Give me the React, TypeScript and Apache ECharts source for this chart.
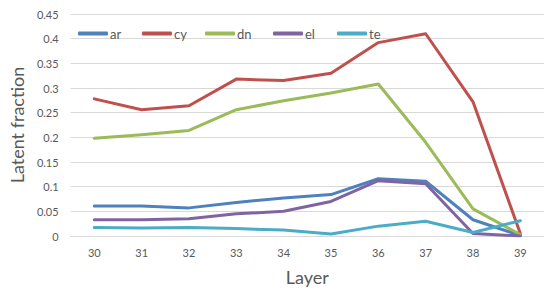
import React, { useEffect, useRef } from "react";
import * as echarts from "echarts";

const layers = ["30", "31", "32", "33", "34", "35", "36", "37", "38", "39"];
const ar = [0.061, 0.061, 0.057, 0.068, 0.077, 0.084, 0.116, 0.111, 0.033, 0.001];
const cy = [0.278, 0.256, 0.264, 0.318, 0.315, 0.33, 0.392, 0.41, 0.272, 0.005];
const dn = [0.198, 0.205, 0.214, 0.256, 0.274, 0.29, 0.308, 0.19, 0.055, 0.003];
const el = [0.033, 0.033, 0.035, 0.045, 0.05, 0.07, 0.112, 0.106, 0.005, 0.0];
const te = [0.017, 0.016, 0.017, 0.015, 0.012, 0.004, 0.02, 0.03, 0.007, 0.031];

const seriesNames = ["ar", "cy", "dn", "el", "te"];
const seriesData = [ar, cy, dn, el, te];
const colors = ["#4F81BD", "#C0504D", "#9BBB59", "#8064A2", "#4BACC6"];
const legendLeft = [78, 142, 205, 273, 337];

const FONT = "Lato, 'Open Sans', sans-serif";

export default function App() {
  const ref = useRef<HTMLDivElement>(null);
  useEffect(() => {
    if (!ref.current) return;
    const chart = echarts.init(ref.current, undefined, { renderer: "svg" });
    chart.setOption({
      animation: false,
      textStyle: { fontFamily: FONT },
      legend: seriesNames.map((n, i) => ({
        top: 27,
        left: legendLeft[i],
        padding: 0,
        itemWidth: 30,
        itemHeight: 4,
        itemGap: 0,
        icon: "roundRect",
        textStyle: { color: "#595959", fontSize: 13, fontFamily: FONT, padding: [0, 0, 0, -3] },
        data: [n],
      })),
      grid: { left: 68, top: 14, width: 479, height: 222.5, containLabel: false },
      xAxis: {
        type: "category",
        data: layers,
        boundaryGap: true,
        name: "Layer",
        nameLocation: "middle",
        nameGap: 32,
        nameTextStyle: { color: "#595959", fontSize: 18, fontFamily: FONT },
        axisLine: { lineStyle: { color: "#D9D9D9", width: 1 } },
        axisTick: { show: false },
        axisLabel: { color: "#595959", fontSize: 11, margin: 11, fontFamily: FONT },
      },
      yAxis: {
        type: "value",
        min: 0,
        max: 0.45,
        interval: 0.05,
        name: "Latent fraction",
        nameLocation: "middle",
        nameGap: 41,
        nameTextStyle: { color: "#595959", fontSize: 18, fontFamily: FONT },
        axisLine: { show: false },
        axisTick: { show: false },
        axisLabel: {
          color: "#595959",
          fontSize: 11,
          margin: 12,
          fontFamily: FONT,
          formatter: (v: number) => String(parseFloat(v.toFixed(2))),
        },
        splitLine: { lineStyle: { color: "#D9D9D9", width: 1 } },
      },
      series: seriesNames.map((name, i) => ({
        name,
        type: "line",
        data: seriesData[i],
        symbol: "none",
        color: colors[i],
        lineStyle: { width: 3, color: colors[i], cap: "round", join: "round" },
      })),
    });
    return () => chart.dispose();
  }, []);
  return <div ref={ref} style={{ width: 544, height: 291, position: "absolute", left: 0, top: 0 }} />;
}
